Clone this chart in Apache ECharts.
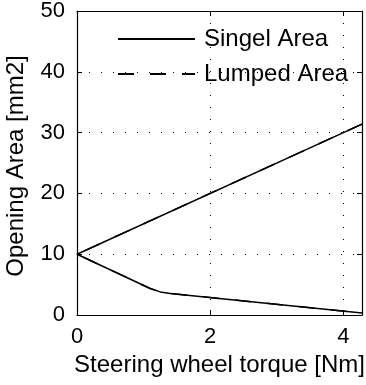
<!DOCTYPE html>
<html>
<head>
<meta charset="utf-8">
<script src="https://cdn.jsdelivr.net/npm/echarts@6/dist/echarts.min.js"></script>
<style>html,body{margin:0;padding:0;background:#fff}#c{width:366px;height:385px}</style>
</head>
<body>
<div id="c"></div>
<script>
var seriesNames = ['Singel Area', 'Lumped Area'];
var torque = [4.28, 0, 1.1, 1.25, 1.4, 4.28];
var singleArea = [31.4, 10, 4.35, 3.8, 3.55, 0.33];
var lumpedArea = [31.4, 10, 4.35, 3.8, 3.55, 0.33];
var xTicks = [0, 2, 4];
var yTicks = [0, 10, 20, 30, 40, 50];

function pairs(xs, ys) { return xs.map(function (x, i) { return [x, ys[i]]; }); }

var FONT = 'Liberation Sans, Arial, sans-serif';
var chart = echarts.init(document.getElementById('c'), null, { renderer: 'canvas' });
var tickStyle = { show: true, inside: true, length: 5, lineStyle: { color: '#000', width: 1 } };
var gridLine = { show: true, lineStyle: { color: '#000', width: 1, type: [1, 11] } };
chart.setOption({
  animation: false,
  backgroundColor: '#fff',
  grid: { left: 77, right: 4, top: 11, bottom: 70, containLabel: false, outerBoundsMode: 'none' },
  legend: {
    orient: 'vertical',
    left: 112, top: 21,
    itemWidth: 77, itemHeight: 2,
    itemGap: 9,
    data: seriesNames,
    textStyle: { fontFamily: FONT, fontSize: 24, color: '#000', lineHeight: 26, padding: [0, 0, 0, 4] }
  },
  xAxis: [{
    type: 'value', min: 0, max: 4.28, interval: 2,
    name: 'Steering wheel torque [Nm]', nameLocation: 'middle', nameGap: 32,
    nameTextStyle: { fontFamily: FONT, fontSize: 24, color: '#000' },
    axisLine: { show: true, onZero: false, lineStyle: { color: '#000', width: 1.2 } },
    axisTick: tickStyle,
    axisLabel: { fontFamily: FONT, fontSize: 22, color: '#000', margin: 11, showMaxLabel: false,
      formatter: function (v) { return xTicks.indexOf(v) >= 0 ? String(v) : ''; } },
    splitLine: gridLine
  }, {
    type: 'value', min: 0, max: 4.28, interval: 2, position: 'top',
    axisLine: { show: true, onZero: false, lineStyle: { color: '#000', width: 1.2 } },
    axisTick: tickStyle, axisLabel: { show: false }, splitLine: { show: false }
  }],
  yAxis: [{
    type: 'value', min: 0, max: 50, interval: 10,
    name: 'Opening Area [mm2]', nameLocation: 'middle', nameGap: 49,
    nameTextStyle: { fontFamily: FONT, fontSize: 24, color: '#000', padding: [0, 6, 0, 0] },
    axisLine: { show: true, onZero: false, lineStyle: { color: '#000', width: 1.2 } },
    axisTick: tickStyle,
    axisLabel: { fontFamily: FONT, fontSize: 22, color: '#000', margin: 12,
      formatter: function (v) { return yTicks.indexOf(v) >= 0 ? String(v) : ''; } },
    splitLine: gridLine
  }, {
    type: 'value', min: 0, max: 50, interval: 10, position: 'right',
    axisLine: { show: true, onZero: false, lineStyle: { color: '#000', width: 1.2 } },
    axisTick: tickStyle, axisLabel: { show: false }, splitLine: { show: false }
  }],
  series: [{
    name: seriesNames[0], type: 'line', xAxisIndex: 0, yAxisIndex: 0,
    data: pairs(torque, singleArea), symbol: 'none', showSymbol: false,
    lineStyle: { color: '#000', width: 1.5, type: 'solid' }, itemStyle: { color: '#000' }
  }, {
    name: seriesNames[1], type: 'line', xAxisIndex: 0, yAxisIndex: 0,
    data: pairs(torque, lumpedArea), symbol: 'none', showSymbol: false,
    lineStyle: { color: '#000', width: 1.5, type: [16, 16] }, itemStyle: { color: '#000' }
  }]
});
</script>
</body>
</html>
